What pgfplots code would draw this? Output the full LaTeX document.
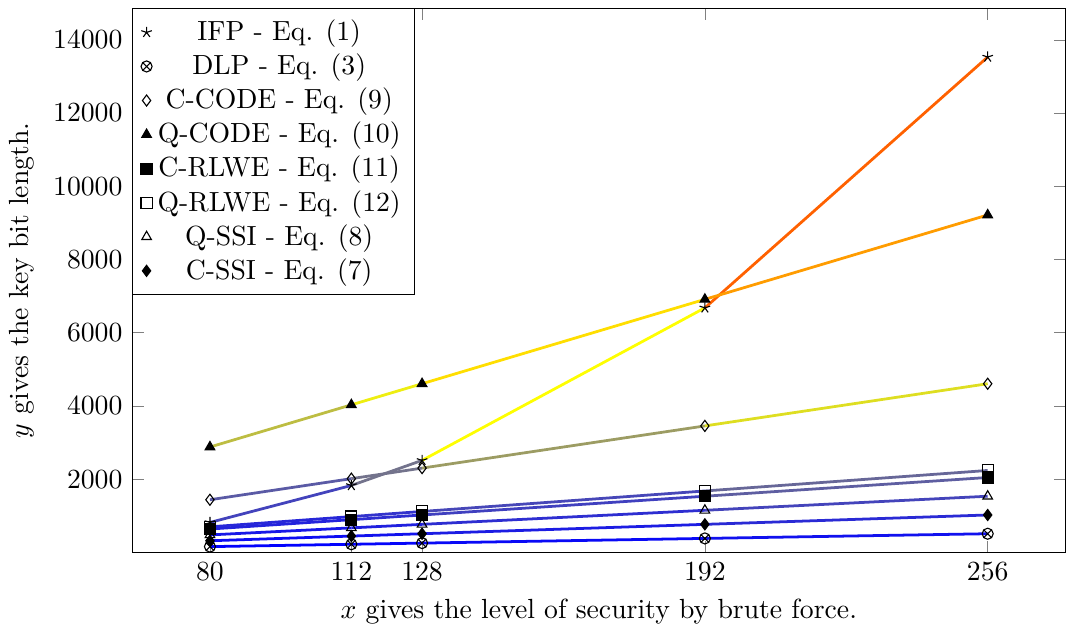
\documentclass[border=0pt]{standalone}
\usepackage{pgfplots}
\pgfplotsset{compat=1.18}

\begin{document}
\begin{tikzpicture}
\begin{axis}[
  scale only axis,
  width=337pt, height=196.5pt,
  xmin=62.4, xmax=273.6,
  ymin=0, ymax=14860,
  xtick={80,112,128,192,256},
  ytick={2000,4000,6000,8000,10000,12000,14000},
  scaled y ticks=false,
  /pgf/number format/1000 sep={},
  xlabel={$x$ gives the level of security by brute force.},
  ylabel={$y$ gives the key bit length.},
  legend cell align=center,
  legend style={at={(0,1)}, anchor=north west, row sep=-0.7pt},
  colormap/hot,
  point meta min=160, point meta max=13530,
]
% IFP - Eq. (1)
\addplot[mesh, line width=1pt, point meta=y, forget plot] coordinates {(80,820) (112,1830) (128,2515) (192,6680) (256,13530)};
% DLP - Eq. (3)
\addplot[mesh, line width=1pt, point meta=y, forget plot] coordinates {(80,160) (112,224) (128,256) (192,384) (256,512)};
% C-CODE - Eq. (9)
\addplot[mesh, line width=1pt, point meta=y, forget plot] coordinates {(80,1440) (112,2016) (128,2304) (192,3456) (256,4608)};
% Q-CODE - Eq. (10)
\addplot[mesh, line width=1pt, point meta=y, forget plot] coordinates {(80,2880) (112,4032) (128,4608) (192,6912) (256,9216)};
% C-RLWE - Eq. (11)
\addplot[mesh, line width=1pt, point meta=y, forget plot] coordinates {(80,640) (112,896) (128,1024) (192,1536) (256,2048)};
% Q-RLWE - Eq. (12)
\addplot[mesh, line width=1pt, point meta=y, forget plot] coordinates {(80,700) (112,980) (128,1120) (192,1680) (256,2240)};
% Q-SSI - Eq. (8)
\addplot[mesh, line width=1pt, point meta=y, forget plot] coordinates {(80,480) (112,672) (128,768) (192,1152) (256,1536)};
% C-SSI - Eq. (7)
\addplot[mesh, line width=1pt, point meta=y, forget plot] coordinates {(80,320) (112,448) (128,512) (192,768) (256,1024)};

% marks, drawn in black on top
\addplot[only marks, mark=star, black] coordinates {(80,820) (112,1830) (128,2515) (192,6680) (256,13530)};
\addlegendentry{IFP - Eq. (1)}
\addplot[only marks, mark=otimes, black] coordinates {(80,160) (112,224) (128,256) (192,384) (256,512)};
\addlegendentry{DLP - Eq. (3)}
\addplot[only marks, mark=diamond, black] coordinates {(80,1440) (112,2016) (128,2304) (192,3456) (256,4608)};
\addlegendentry{C-CODE - Eq. (9)}
\addplot[only marks, mark=triangle*, black] coordinates {(80,2880) (112,4032) (128,4608) (192,6912) (256,9216)};
\addlegendentry{Q-CODE - Eq. (10)}
\addplot[only marks, mark=square*, black] coordinates {(80,640) (112,896) (128,1024) (192,1536) (256,2048)};
\addlegendentry{C-RLWE - Eq. (11)}
\addplot[only marks, mark=square, black] coordinates {(80,700) (112,980) (128,1120) (192,1680) (256,2240)};
\addlegendentry{Q-RLWE - Eq. (12)}
\addplot[only marks, mark=triangle, black] coordinates {(80,480) (112,672) (128,768) (192,1152) (256,1536)};
\addlegendentry{Q-SSI - Eq. (8)}
\addplot[only marks, mark=diamond*, black] coordinates {(80,320) (112,448) (128,512) (192,768) (256,1024)};
\addlegendentry{C-SSI - Eq. (7)}
\end{axis}
\path ([yshift=3pt]current axis.north);
\end{tikzpicture}
\end{document}
